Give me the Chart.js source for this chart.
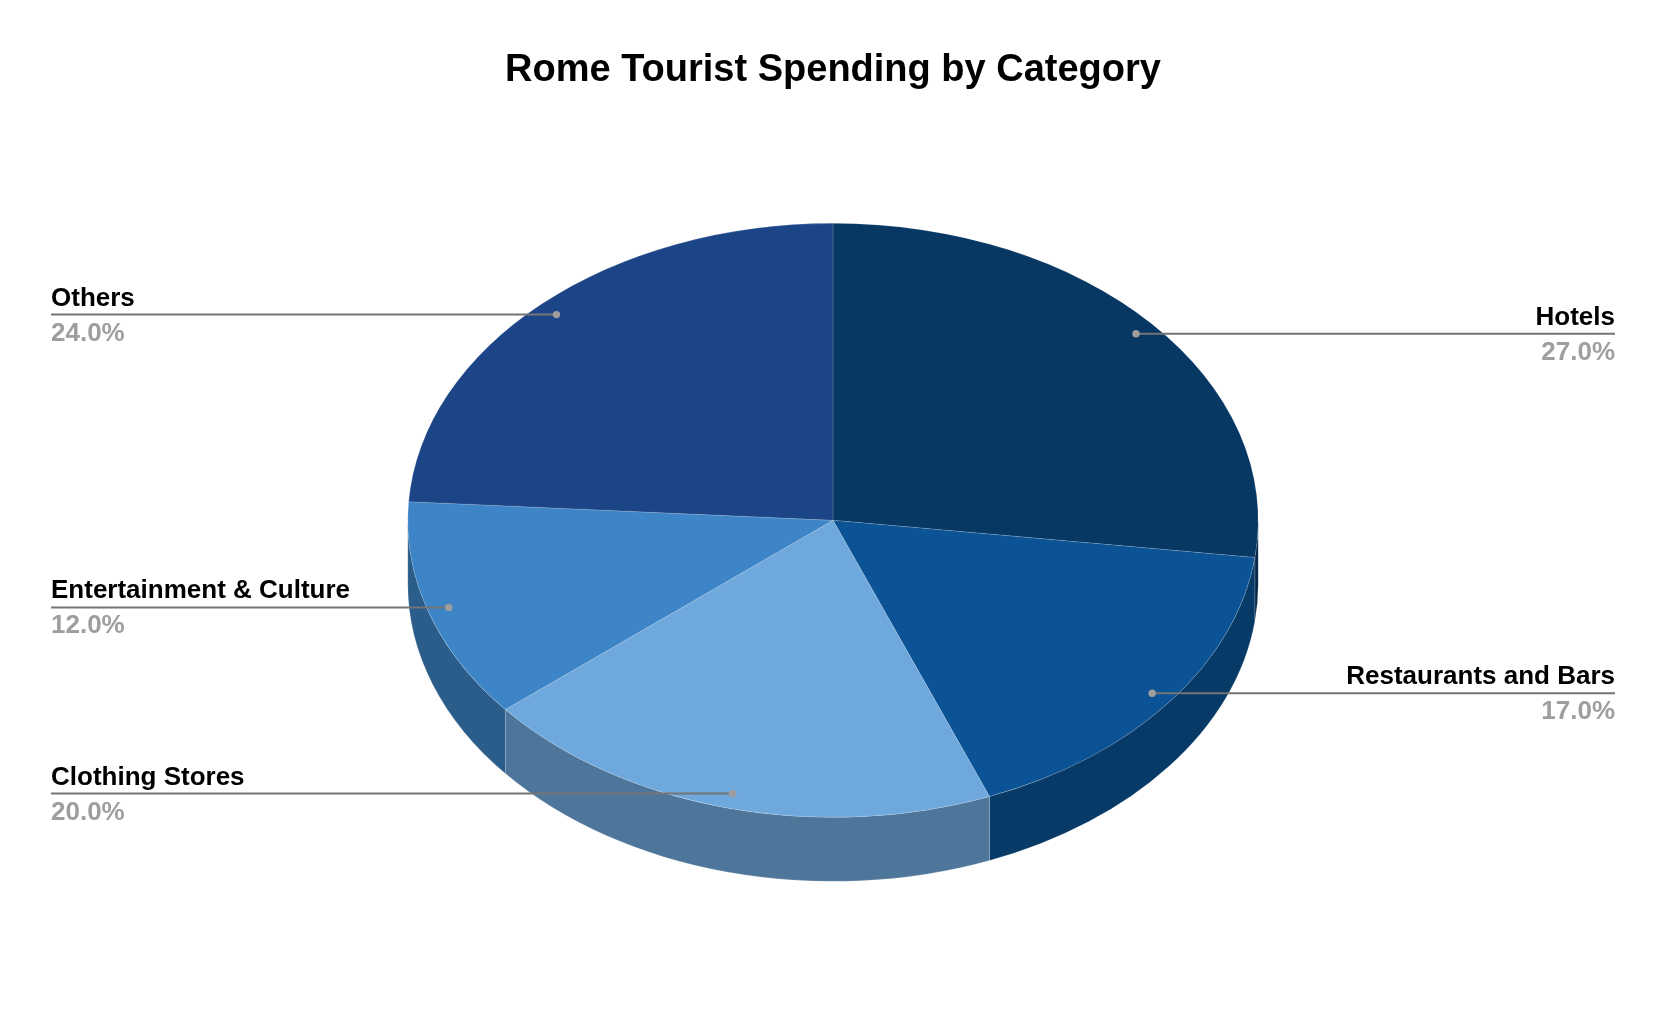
<!DOCTYPE html>
<html>
<head>
<meta charset="utf-8">
<title>Rome Tourist Spending by Category</title>
<script src="https://cdn.jsdelivr.net/npm/chart.js@4"></script>
<style>
html,body{margin:0;padding:0;background:#fff;}
canvas{display:block;}
</style>
</head>
<body>
<canvas id="c" width="1658" height="1024"></canvas>
<script>
const categories = ['Hotels','Restaurants and Bars','Clothing Stores','Entertainment & Culture','Others'];
const spending = [27,17,20,12,24];
const sliceColors = ['#073763','#0b5394','#6fa8dc','#3d85c6','#1c4587'];
const wallColors = ['#052645','#083a68','#4e769a','#2b5d8b','#14305e'];
const chartTitle = 'Rome Tourist Spending by Category';
const tilt = 0.6985;      // ellipse height / width
const wallDepth = 64;
const FONT = '"Liberation Sans", Arial, sans-serif';

const pie3d = {
  id: 'pie3d',
  beforeDatasetsDraw(chart) {
    const ctx = chart.ctx;
    const arcs = chart.getDatasetMeta(0).data;
    const cx = arcs[0].x, cy = arcs[0].y, rx = arcs[0].outerRadius, ry = rx * tilt;
    arcs.forEach((arc, i) => {
      const a0 = Math.max(arc.startAngle, 0);
      const a1 = Math.min(arc.endAngle, Math.PI);
      if (a1 <= a0) return;
      ctx.beginPath();
      ctx.ellipse(cx, cy, rx, ry, 0, a0, a1);
      ctx.ellipse(cx, cy + wallDepth, rx, ry, 0, a1, a0, true);
      ctx.closePath();
      ctx.fillStyle = wallColors[i];
      ctx.fill();
      ctx.strokeStyle = 'rgba(255,255,255,0.14)';
      ctx.lineWidth = 1;
      ctx.stroke();
    });
    ctx.save();
    ctx.translate(cx, cy);
    ctx.scale(1, tilt);
    ctx.translate(-cx, -cy);
  },
  afterDatasetsDraw(chart) {
    chart.ctx.restore();
  },
  afterDraw(chart) {
    const ctx = chart.ctx;
    const arcs = chart.getDatasetMeta(0).data;
    const total = spending.reduce((a, b) => a + b, 0);
    const leftX = 51, rightX = 1615;
    arcs.forEach((arc, i) => {
      const mid = (arc.startAngle + arc.endAngle) / 2;
      const px = arc.x + Math.cos(mid) * arc.outerRadius * 0.95;
      const py = arc.y + Math.sin(mid) * arc.outerRadius * 0.95 * tilt;
      const onRight = px > arc.x;
      const endX = onRight ? rightX : leftX;
      ctx.beginPath();
      ctx.moveTo(px, py);
      ctx.lineTo(endX, py);
      ctx.strokeStyle = '#757575';
      ctx.lineWidth = 2;
      ctx.stroke();
      ctx.beginPath();
      ctx.arc(px, py, 3.7, 0, Math.PI * 2);
      ctx.fillStyle = '#9e9e9e';
      ctx.fill();
      ctx.textAlign = onRight ? 'right' : 'left';
      ctx.textBaseline = 'alphabetic';
      ctx.font = 'bold 26px ' + FONT;
      ctx.fillStyle = '#000000';
      ctx.fillText(categories[i], endX, py - 9);
      ctx.fillStyle = '#9e9e9e';
      ctx.fillText((spending[i] / total * 100).toFixed(1) + '%', endX, py + 26);
    });
  }
};

new Chart(document.getElementById('c'), {
  type: 'pie',
  data: {
    labels: categories,
    datasets: [{
      data: spending,
      backgroundColor: sliceColors,
      borderColor: 'rgba(255,255,255,0.18)',
      borderWidth: 1
    }]
  },
  options: {
    responsive: false,
    animation: false,
    devicePixelRatio: 1,
    layout: { padding: { left: 407, right: 399, top: 0, bottom: 78 } },
    plugins: {
      legend: { display: false },
      tooltip: { enabled: false },
      title: {
        display: true,
        text: chartTitle,
        color: '#000000',
        font: { family: FONT, size: 38, weight: 'bold' },
        padding: { top: 48, bottom: 1 }
      }
    }
  },
  plugins: [pie3d]
});
</script>
</body>
</html>
